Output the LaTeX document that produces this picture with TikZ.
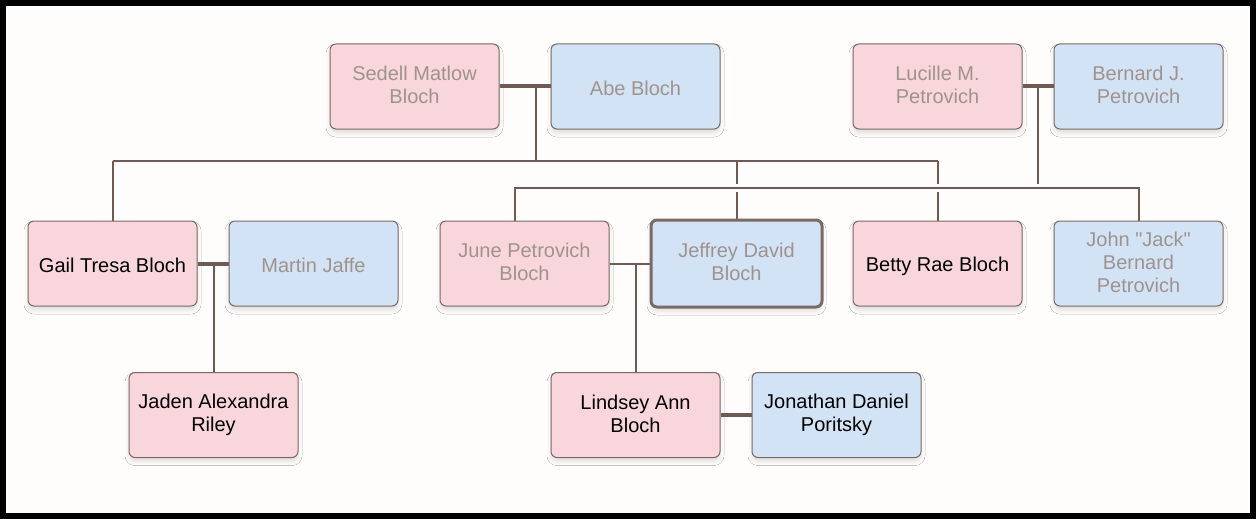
\documentclass[tikz,border=0pt]{standalone}
\usepackage{fontspec}
\setmainfont{Liberation Sans}[Ligatures=TeXOff]
\usetikzlibrary{shadows.blur}
\definecolor{bgc}{HTML}{FEFDFC}
\definecolor{pinkf}{HTML}{F8D6DB}
\definecolor{bluef}{HTML}{D1E3F5}
\definecolor{boxd}{HTML}{7A6A63}
\definecolor{linec}{HTML}{6E5C54}
\definecolor{graytx}{HTML}{A0938D}
\newcommand{\pstrut}{\rule[-2.6pt]{0pt}{23pt}}
\tikzset{
  person/.style={draw=boxd, line width=1pt, rounded corners=6pt, minimum width=169pt, minimum height=85pt,
    align=center, inner sep=0pt, font=\fontsize{20}{23}\selectfont,
    execute at begin node=\pstrut, execute at end node=\pstrut,
    blur shadow={shadow xshift=0pt, shadow yshift=-4pt, shadow blur radius=4pt, shadow opacity=12}},
  female/.style={person, fill=pinkf},
  male/.style={person, fill=bluef},
  faded/.style={text=graytx},
  alive/.style={text=black},
  focus/.style={line width=3pt, minimum width=171pt, minimum height=87pt},
  descent/.style={draw=linec, line width=2pt},
  halo/.style={descent, preaction={draw=bgc, line width=8pt}},
  marriage/.style={draw=linec, line width=4pt},
  thinmarriage/.style={draw=linec, line width=2pt},
}
\begin{document}
\begin{tikzpicture}[x=1pt,y=-1pt]
\fill[black] (0,0) rectangle (1256,519);
\fill[bgc] (6,6) rectangle (1250,513);
\useasboundingbox (0,0) rectangle (1256,519);

\coordinate (jSA) at (536,87);
\coordinate (jLB) at (1038,87);
\coordinate (jGM) at (213.5,264);
\coordinate (jJJ) at (636,264);
\coordinate (blochbar) at (536,161);
\coordinate (petbar) at (1038,188);

\node[female,faded] (sedell) at (414.5,86.5) {Sedell Matlow\\Bloch};
\node[male,faded] (abe) at (635.5,86.5) {Abe Bloch};
\node[female,faded] (lucille) at (937.5,86.5) {Lucille M.\\Petrovich};
\node[male,faded] (bernard) at (1138.5,86.5) {Bernard J.\\Petrovich};

% descent lines
\draw[descent] (jSA) -- (blochbar);
\draw[descent] (113,161) -- (938,161);
\draw[descent] (113,161) -- (113,221);
\draw[descent] (737,161) -- (737,220);
\draw[descent] (938,161) -- (938,221);
\draw[halo] (jLB) -- (petbar);
\draw[halo] (515,221) -- (515,188) -- (1139,188) -- (1139,221);
\draw[descent] (jGM) -- (213.5,373);
\draw[descent] (jJJ) -- (636,373);

% boxes
\node[female,alive] (gail) at (112.5,263.5) {Gail Tresa Bloch};
\node[male,faded] (martin) at (313.5,263.5) {Martin Jaffe};
\node[female,faded] (june) at (524.5,263.5) {June Petrovich\\Bloch};
\node[male,faded,focus] (jeffrey) at (736.5,263.5) {Jeffrey David\\Bloch};
\node[female,alive] (betty) at (937.5,263.5) {Betty Rae Bloch};
\node[male,faded] (john) at (1138.5,263.5) {John "Jack"\\Bernard\\Petrovich};
\node[female,alive] (jaden) at (213.5,415) {Jaden Alexandra\\Riley};
\node[female,alive] (lindsey) at (635.5,415) {Lindsey Ann\\Bloch};
\node[male,alive] (jonathan) at (836.5,415) {Jonathan Daniel\\Poritsky};

% marriage lines
\draw[marriage] (sedell.east) -- (abe.west);
\draw[marriage] (lucille.east) -- (bernard.west);
\draw[marriage] (gail.east) -- (martin.west);
\draw[thinmarriage] (june.east) -- (jeffrey.west);
\draw[marriage] (lindsey.east) -- (jonathan.west);
\end{tikzpicture}
\end{document}
